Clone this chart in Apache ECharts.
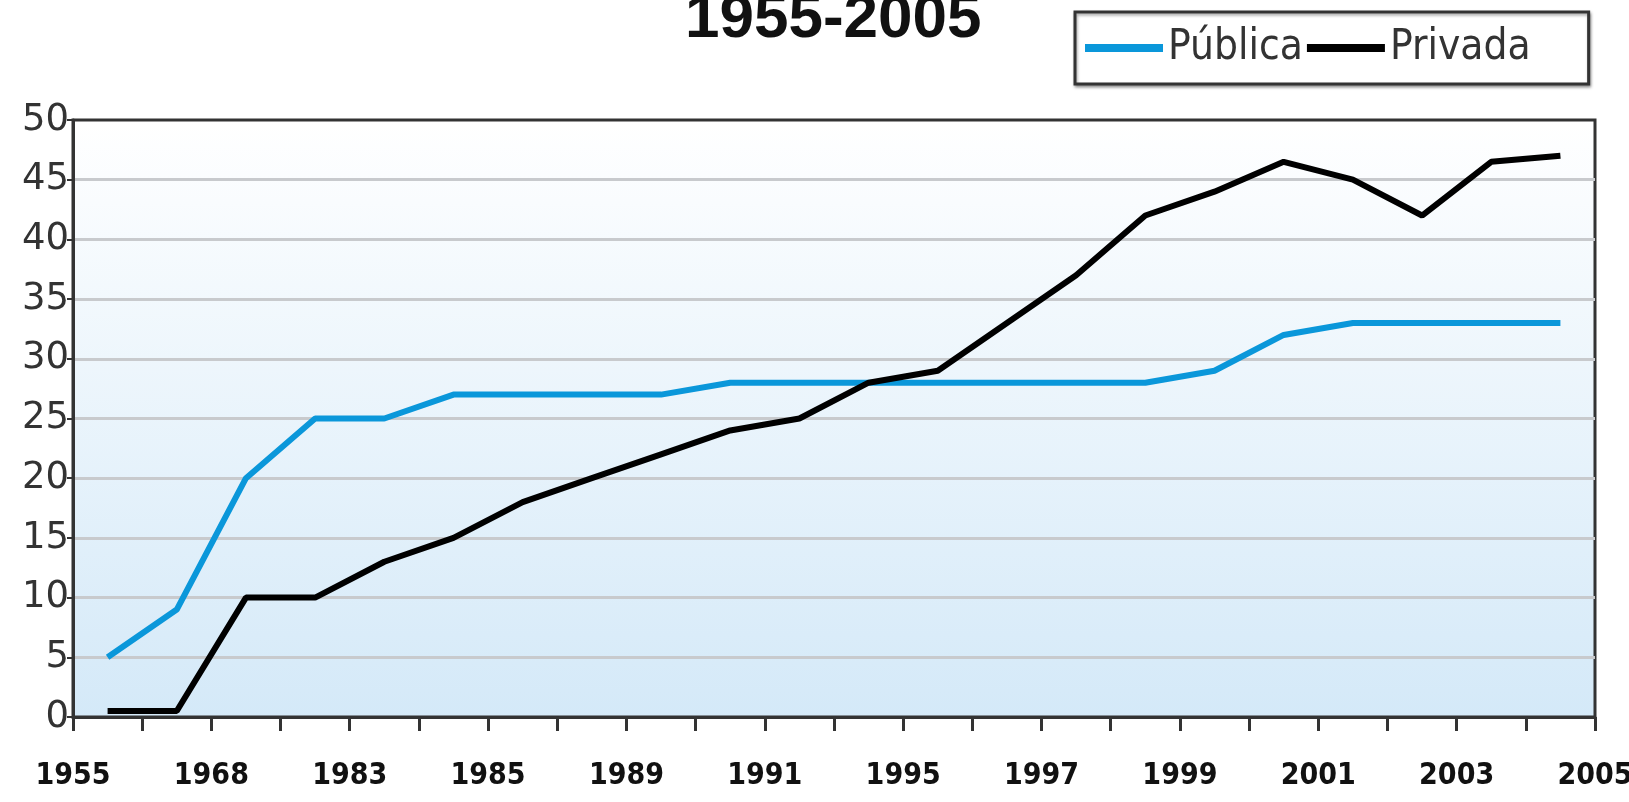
<!DOCTYPE html>
<html>
<head>
<meta charset="utf-8">
<script src="https://cdn.jsdelivr.net/npm/echarts@6/dist/echarts.min.js"></script>
<style>
  html, body { margin: 0; padding: 0; background: #fff; }
  #chart { width: 1629px; height: 802px; }
</style>
</head>
<body>
<div id="chart"></div>
<script>
  // 22 periodos (puntos de la serie), etiquetas del eje cada dos periodos
  const periodos = ['p1','p2','p3','p4','p5','p6','p7','p8','p9','p10','p11',
                    'p12','p13','p14','p15','p16','p17','p18','p19','p20','p21','p22'];
  const etiquetas = ['1955','1968','1983','1985','1989','1991','1995','1997','1999','2001','2003','2005'];
  const publica = [5, 9, 20, 25, 25, 27, 27, 27, 27, 28, 28, 28, 28, 28, 28, 28, 29, 32, 33, 33, 33, 33];
  const privada = [0.5, 0.5, 10, 10, 13, 15, 18, 20, 22, 24, 25, 28, 29, 33, 37, 42, 44, 46.5, 45, 42, 46.5, 47];

  const chart = echarts.init(document.getElementById('chart'));

  const option = {
    backgroundColor: '#fff',
    animation: false,
    title: {
      text: '1955-2005',
      left: 680,
      top: -16,
      textStyle: {
        fontFamily: 'Liberation Sans',
        fontWeight: 'bold',
        fontSize: 62,
        color: '#111'
      }
    },
    legend: {
      data: ['Pública', 'Privada'],
      left: 1075,
      top: 12,
      padding: [15, 58, 15, 10],
      borderColor: '#333',
      borderWidth: 3,
      shadowColor: 'rgba(0,0,0,0.35)',
      shadowBlur: 3,
      shadowOffsetX: 1,
      shadowOffsetY: 2,
      backgroundColor: '#fff',
      icon: 'rect',
      itemWidth: 78,
      itemHeight: 8,
      itemGap: 4,
      textStyle: {
        fontFamily: 'DejaVu Sans Condensed',
        fontSize: 42,
        color: '#333'
      }
    },
    grid: {
      left: 73,
      right: 34,
      top: 120,
      bottom: 85,
      outerBoundsMode: 'none',
      show: true,
      borderColor: '#333',
      borderWidth: 3,
      backgroundColor: {
        type: 'linear', x: 0, y: 0, x2: 0, y2: 1,
        colorStops: [
          { offset: 0, color: '#ffffff' },
          { offset: 1, color: '#d4e9f8' }
        ]
      }
    },
    xAxis: [
      {
        type: 'category',
        data: periodos,
        boundaryGap: true,
        axisLine: { lineStyle: { color: '#333', width: 3 } },
        axisTick: { show: true, interval: 0, length: 14, lineStyle: { color: '#333', width: 3 } },
        axisLabel: { show: false },
        splitLine: { show: false }
      },
      {
        type: 'category',
        data: etiquetas,
        position: 'bottom',
        boundaryGap: false,
        axisLine: { show: false },
        axisTick: { show: false },
        axisLabel: {
          interval: 0,
          margin: 44,
          fontFamily: 'DejaVu Sans Condensed',
          fontWeight: 'bold',
          fontSize: 30,
          color: '#111'
        },
        splitLine: { show: false }
      }
    ],
    yAxis: {
      type: 'value',
      min: 0,
      max: 50,
      interval: 5,
      axisLine: { show: true, lineStyle: { color: '#333', width: 3 } },
      axisTick: { show: true, length: 6, lineStyle: { color: '#333', width: 2 } },
      axisLabel: {
        margin: 4,
        fontFamily: 'DejaVu Sans',
        fontSize: 37,
        color: '#333'
      },
      splitLine: {
        show: true,
        showMinLine: false,
        showMaxLine: false,
        lineStyle: { color: '#c8cacd', width: 3 }
      }
    },
    series: [
      {
        name: 'Pública',
        type: 'line',
        data: publica,
        symbol: 'none',
        itemStyle: { color: '#0a97da' },
        lineStyle: { color: '#0a97da', width: 6 }
      },
      {
        name: 'Privada',
        type: 'line',
        data: privada,
        symbol: 'none',
        itemStyle: { color: '#000' },
        lineStyle: { color: '#000', width: 6 }
      }
    ]
  };

  chart.setOption(option);
</script>
</body>
</html>
